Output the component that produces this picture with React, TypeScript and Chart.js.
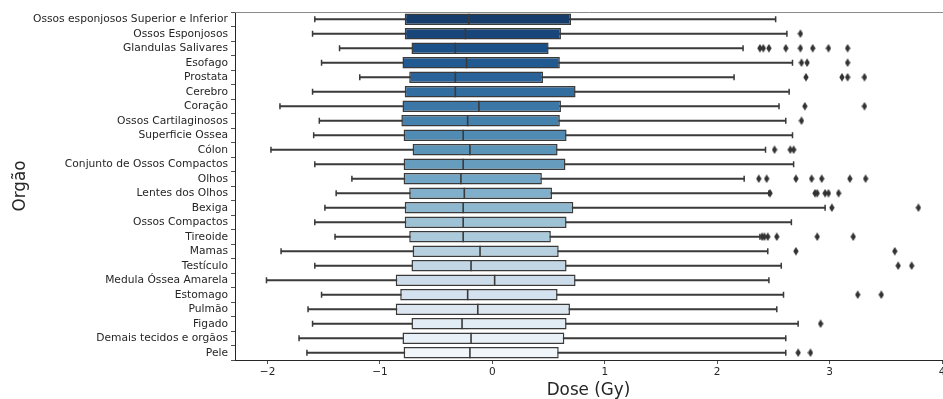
import React, { useEffect, useRef } from 'react';
import { Chart, registerables } from 'chart.js';

Chart.register(...registerables);

const categories = [
  'Ossos esponjosos Superior e Inferior',
  'Ossos Esponjosos',
  'Glandulas Salivares',
  'Esofago',
  'Prostata',
  'Cerebro',
  'Coração',
  'Ossos Cartilaginosos',
  'Superficie Ossea',
  'Cólon',
  'Conjunto de Ossos Compactos',
  'Olhos',
  'Lentes dos Olhos',
  'Bexiga',
  'Ossos Compactos',
  'Tireoide',
  'Mamas',
  'Testículo',
  'Medula Óssea Amarela',
  'Estomago',
  'Pulmão',
  'Figado',
  'Demais tecidos e orgãos',
  'Pele',
];

const whiskerLow = [-1.58, -1.6, -1.36, -1.52, -1.18, -1.6, -1.89, -1.54, -1.59, -1.97, -1.58, -1.25, -1.39, -1.49, -1.58, -1.4, -1.88, -1.58, -2.01, -1.52, -1.64, -1.6, -1.72, -1.65];
const q1 = [-0.78, -0.78, -0.72, -0.8, -0.74, -0.78, -0.8, -0.81, -0.79, -0.71, -0.79, -0.79, -0.74, -0.78, -0.78, -0.74, -0.71, -0.72, -0.86, -0.82, -0.86, -0.72, -0.8, -0.79];
const medians = [-0.21, -0.24, -0.33, -0.23, -0.33, -0.33, -0.12, -0.22, -0.26, -0.2, -0.26, -0.28, -0.25, -0.26, -0.26, -0.26, -0.11, -0.19, 0.02, -0.22, -0.13, -0.27, -0.19, -0.2];
const q3 = [0.7, 0.61, 0.5, 0.6, 0.45, 0.74, 0.61, 0.6, 0.66, 0.58, 0.65, 0.44, 0.53, 0.72, 0.66, 0.52, 0.59, 0.66, 0.74, 0.58, 0.69, 0.66, 0.64, 0.59];
const whiskerHigh = [2.52, 2.62, 2.23, 2.67, 2.15, 2.64, 2.55, 2.61, 2.67, 2.43, 2.68, 2.24, 2.46, 2.96, 2.66, 2.38, 2.45, 2.57, 2.46, 2.59, 2.53, 2.72, 2.61, 2.61];
const outliers: number[][] = [
  [],
  [2.74],
  [2.38, 2.41, 2.46, 2.61, 2.74, 2.85, 2.99, 3.16],
  [2.75, 2.8, 3.16],
  [2.79, 3.11, 3.16, 3.31],
  [],
  [2.78, 3.31],
  [2.75],
  [],
  [2.51, 2.65, 2.68],
  [],
  [2.37, 2.44, 2.7, 2.84, 2.93, 3.18, 3.32],
  [2.47, 2.87, 2.89, 2.96, 2.99, 3.08],
  [3.02, 3.79],
  [],
  [2.4, 2.42, 2.45, 2.53, 2.89, 3.21],
  [2.7, 3.58],
  [3.61, 3.73],
  [],
  [3.25, 3.46],
  [],
  [2.92],
  [],
  [2.72, 2.83],
];
const xTicks = [-2, -1, 0, 1, 2, 3, 4];

// matplotlib "Blues" colormap anchors (style only)
const BLUES = [
  [247, 251, 255], [222, 235, 247], [198, 219, 239], [158, 202, 225], [107, 174, 214],
  [66, 146, 198], [33, 113, 181], [8, 81, 156], [8, 48, 107],
];

function blues(t: number): number[] {
  const s = t * 8;
  const i = Math.min(7, Math.floor(s));
  const f = s - i;
  return BLUES[i].map((c, k) => c + (BLUES[i + 1][k] - c) * f);
}

function desaturate(rgb: number[], prop: number): string {
  const [r, g, b] = rgb.map((v) => v / 255);
  const mx = Math.max(r, g, b), mn = Math.min(r, g, b);
  const l = (mx + mn) / 2;
  let h = 0, s = 0;
  if (mx !== mn) {
    const d = mx - mn;
    s = l <= 0.5 ? d / (mx + mn) : d / (2 - mx - mn);
    if (mx === r) h = ((g - b) / d) / 6;
    else if (mx === g) h = (2 + (b - r) / d) / 6;
    else h = (4 + (r - g) / d) / 6;
    if (h < 0) h += 1;
  }
  s *= prop;
  const m2 = l <= 0.5 ? l * (1 + s) : l + s - l * s;
  const m1 = 2 * l - m2;
  const v = (hh: number) => {
    hh = ((hh % 1) + 1) % 1;
    if (hh < 1 / 6) return m1 + (m2 - m1) * hh * 6;
    if (hh < 0.5) return m2;
    if (hh < 2 / 3) return m1 + (m2 - m1) * (2 / 3 - hh) * 6;
    return m1;
  };
  const out = s === 0 ? [l, l, l] : [v(h + 1 / 3), v(h), v(h - 1 / 3)];
  return `rgb(${out.map((x) => Math.round(x * 255)).join(',')})`;
}

const boxColors = categories.map((_, i) => desaturate(blues(1 - (i + 1) / (categories.length + 1)), 0.75));
const GRAY = '#3a3a3a';
const TEXT = '#262626';
const FONT = "'DejaVu Sans', sans-serif";

function makeDiamond(): HTMLCanvasElement {
  const c = document.createElement('canvas');
  c.width = 6;
  c.height = 9;
  const ctx = c.getContext('2d')!;
  ctx.fillStyle = '#333333';
  ctx.beginPath();
  ctx.moveTo(3, 0.3);
  ctx.lineTo(5.7, 4.5);
  ctx.lineTo(3, 8.7);
  ctx.lineTo(0.3, 4.5);
  ctx.closePath();
  ctx.fill();
  return c;
}

const framePlugin = {
  id: 'topFrame',
  afterDatasetsDraw(chart: any) {
    const { ctx, chartArea } = chart;
    ctx.save();
    ctx.strokeStyle = '#8a8a8a';
    ctx.lineWidth = 1;
    ctx.beginPath();
    ctx.moveTo(chartArea.left, chartArea.top + 0.5);
    ctx.lineTo(chartArea.right + 2, chartArea.top + 0.5);
    ctx.stroke();
    ctx.restore();
  },
};

export default function App() {
  const ref = useRef<HTMLCanvasElement | null>(null);

  useEffect(() => {
    if (!ref.current) return;
    const diamond = makeDiamond();
    const capData = [
      ...categories.map((c, i) => ({ x: whiskerLow[i], y: c })),
      ...categories.map((c, i) => ({ x: whiskerHigh[i], y: c })),
    ];
    const chart = new Chart(ref.current, {
      type: 'bar',
      data: {
        labels: categories,
        datasets: [
          {
            type: 'bar',
            label: 'whiskers',
            data: categories.map((_, i) => [whiskerLow[i], whiskerHigh[i]]),
            backgroundColor: GRAY,
            borderWidth: 0,
            barThickness: 1.5,
            grouped: false,
            order: 5,
          } as any,
          {
            type: 'bar',
            label: 'boxes',
            data: categories.map((_, i) => [q1[i], q3[i]]),
            backgroundColor: boxColors,
            borderColor: GRAY,
            borderWidth: 1.5,
            borderSkipped: false,
            grouped: false,
            categoryPercentage: 1,
            barPercentage: 0.8,
            order: 4,
          } as any,
          {
            type: 'scatter',
            label: 'medians',
            data: categories.map((c, i) => ({ x: medians[i], y: c })),
            pointStyle: 'line',
            rotation: 90,
            radius: 5.6,
            borderColor: GRAY,
            borderWidth: 1.6,
            order: 3,
          } as any,
          {
            type: 'scatter',
            label: 'caps',
            data: capData,
            pointStyle: 'line',
            rotation: 90,
            radius: 2.9,
            borderColor: GRAY,
            borderWidth: 1.5,
            order: 3,
          } as any,
          {
            type: 'scatter',
            label: 'outliers',
            data: outliers.flatMap((arr, i) => arr.map((v) => ({ x: v, y: categories[i] }))),
            pointStyle: diamond,
            order: 2,
          } as any,
        ],
      },
      options: {
        indexAxis: 'y',
        responsive: false,
        animation: false,
        events: [],
        layout: { autoPadding: false, padding: { top: 12, right: 1, left: 0, bottom: 0 } },
        plugins: { legend: { display: false }, tooltip: { enabled: false } },
        scales: {
          x: {
            type: 'linear',
            min: -2.29,
            max: 4.0,
            afterBuildTicks: (s: any) => {
              s.ticks = xTicks.map((v) => ({ value: v }));
            },
            afterFit: (s: any) => {
              s.height = 39;
              s.paddingLeft = 0;
              s.paddingRight = 0;
            },
            ticks: {
              font: { family: FONT, size: 10.5 },
              color: TEXT,
              padding: 2,
              maxRotation: 0,
              callback: (v: any) => (Number(v) < 0 ? '\u2212' + Math.abs(Number(v)) : String(v)),
            },
            grid: {
              display: true,
              drawOnChartArea: false,
              drawTicks: true,
              tickLength: 4,
              tickColor: TEXT,
              tickWidth: 0.8,
            },
            border: { display: true, color: TEXT, width: 1 },
            title: {
              display: true,
              text: 'Dose (Gy)',
              font: { family: FONT, size: 16.8, lineHeight: 1 },
              color: TEXT,
              padding: { top: 0, bottom: 0 },
            },
          },
          y: {
            type: 'category',
            labels: categories,
            offset: true,
            afterFit: (s: any) => {
              s.width = 235;
              s.paddingTop = 0;
              s.paddingBottom = 0;
            },
            ticks: {
              font: { family: FONT, size: 10.7 },
              color: TEXT,
              padding: 3,
              autoSkip: false,
            },
            grid: {
              display: true,
              drawOnChartArea: false,
              drawTicks: true,
              tickLength: 4,
              tickColor: TEXT,
              tickWidth: 0.8,
            },
            border: { display: true, color: TEXT, width: 1 },
            title: {
              display: true,
              text: 'Orgão',
              font: { family: FONT, size: 16.8, lineHeight: 1.2 },
              color: TEXT,
              padding: { top: 10.9, bottom: 0 },
            },
          },
        },
      } as any,
      plugins: [framePlugin],
    });
    return () => chart.destroy();
  }, []);

  return (
    <div style={{ position: 'fixed', left: 0, top: 0, width: 943, height: 399, background: '#fff' }}>
      <canvas ref={ref} width={943} height={399} style={{ display: 'block' }} />
    </div>
  );
}
